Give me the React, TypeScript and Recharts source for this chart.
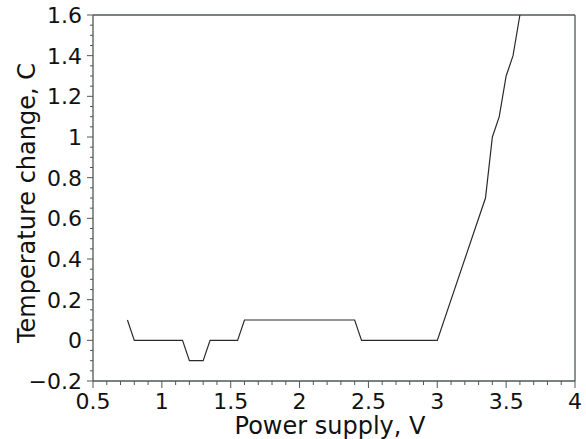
import { LineChart, Line, XAxis, YAxis, ReferenceLine, Label } from "recharts";

// measured points (V, °C)
const voltage = [0.75, 0.8, 1.15, 1.2, 1.3, 1.35, 1.55, 1.6, 2.4, 2.45, 3.0, 3.35, 3.4, 3.45, 3.5, 3.55, 3.6];
const tempChange = [0.1, 0, 0, -0.1, -0.1, 0, 0, 0.1, 0.1, 0, 0, 0.7, 1.0, 1.1, 1.3, 1.4, 1.6];

const xTicks = [0.5, 1, 1.5, 2, 2.5, 3, 3.5, 4];
const yTicks = [-0.2, 0, 0.2, 0.4, 0.6, 0.8, 1, 1.2, 1.4, 1.6];

const xMinor = Array.from({ length: 36 }, (_, i) => Math.round((0.5 + i * 0.1) * 100) / 100);
const yMinor = Array.from({ length: 37 }, (_, i) => Math.round((-0.2 + i * 0.05) * 100) / 100);

const data = voltage.map((v, i) => ({ v, t: tempChange[i] }));

const FONT = "'DejaVu Sans', Verdana, sans-serif";
const AXIS = "#4f5756";
const TEXT = "#111";

const isMajor = (list: number[], v: number) => list.some((m) => Math.abs(m - v) < 1e-6);
const fmt = (v: number) => (v < 0 ? "\u2212" + Math.abs(v) : String(v));

function XTick(props: any) {
  const { x, y, payload } = props;
  const major = isMajor(xTicks, payload.value);
  return (
    <g>
      <line x1={x} y1={y} x2={x} y2={y + (major ? 7 : 4)} stroke={AXIS} strokeWidth={1} />
      {major && (
        <text x={x} y={y + 28} textAnchor="middle" fontFamily={FONT} fontSize={22} fill={TEXT}>
          {fmt(payload.value)}
        </text>
      )}
    </g>
  );
}

function YTick(props: any) {
  const { x, y, payload } = props;
  const major = isMajor(yTicks, payload.value);
  return (
    <g>
      <line x1={x} y1={y} x2={x - (major ? 6 : 3)} y2={y} stroke={AXIS} strokeWidth={1} />
      {major && (
        <text x={x - 11} y={y + 8} textAnchor="end" fontFamily={FONT} fontSize={22} fill={TEXT}>
          {fmt(payload.value)}
        </text>
      )}
    </g>
  );
}

export default function App() {
  return (
    <div style={{ width: 586, height: 439, background: "#fff" }}>
      <style>{`body{margin:0}`}</style>
      <LineChart width={586} height={439} data={data} margin={{ top: 15, right: 11, left: 0, bottom: 0 }}>
        <XAxis
          type="number"
          dataKey="v"
          domain={[0.5, 4]}
          ticks={xMinor}
          interval={0}
          height={58}
          tickSize={0}
          tickMargin={0}
          tickLine={false}
          tick={(p: any) => <XTick {...p} />}
          axisLine={{ stroke: AXIS, strokeWidth: 1.3 }}
        >
          <Label
            content={({ viewBox }: any) => (
              <text
                x={viewBox.x + viewBox.width / 2 - 4}
                y={viewBox.y + 53}
                textAnchor="middle"
                fontFamily={FONT}
                fontSize={24}
                fill={TEXT}
              >
                Power supply, V
              </text>
            )}
          />
        </XAxis>
        <YAxis
          type="number"
          domain={[-0.2, 1.6]}
          allowDataOverflow
          ticks={yMinor}
          interval={0}
          width={93}
          tickSize={0}
          tickMargin={0}
          tickLine={false}
          tick={(p: any) => <YTick {...p} />}
          axisLine={{ stroke: AXIS, strokeWidth: 1.3 }}
        >
          <Label
            content={({ viewBox }: any) => {
              const cx = viewBox.x + 35;
              const cy = viewBox.y + viewBox.height / 2 + 5;
              return (
                <text
                  x={cx}
                  y={cy}
                  transform={`rotate(-90, ${cx}, ${cy})`}
                  textAnchor="middle"
                  fontFamily={FONT}
                  fontSize={24}
                  fill={TEXT}
                >
                  Temperature change, C
                </text>
              );
            }}
          />
        </YAxis>
        <ReferenceLine y={1.6} stroke={AXIS} strokeWidth={1.3} />
        <ReferenceLine x={4} stroke={AXIS} strokeWidth={1.3} />
        <Line
          type="linear"
          dataKey="t"
          stroke="#2b2b2b"
          strokeWidth={1.2}
          dot={false}
          isAnimationActive={false}
        />
      </LineChart>
    </div>
  );
}
